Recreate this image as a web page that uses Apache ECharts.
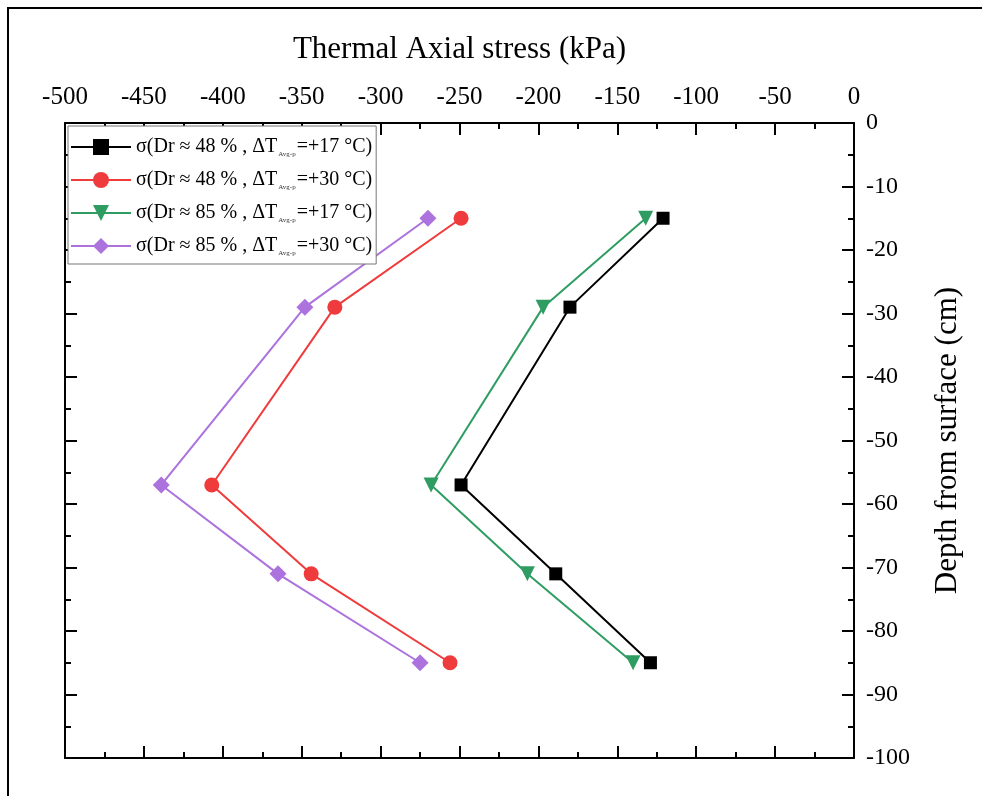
<!DOCTYPE html>
<html>
<head>
<meta charset="utf-8">
<script src="https://cdn.jsdelivr.net/npm/echarts@6/dist/echarts.min.js"></script>
<style>html,body{margin:0;padding:0;background:#fff}#c{width:982px;height:796px}</style>
</head>
<body>
<div id="c"></div>
<script>
const depths = [-15, -29, -57, -71, -85];
const dr48_t17 = [-121, -180, -249, -189, -129];
const dr48_t30 = [-249, -329, -407, -344, -256];
const dr85_t17 = [-132, -197, -268, -207, -140];
const dr85_t30 = [-270, -348, -439, -365, -275];
const seriesNames = ['Dr48_T17', 'Dr48_T30', 'Dr85_T17', 'Dr85_T30'];
const legendDr = ['48', '48', '85', '85'];
const legendT = ['+17', '+30', '+17', '+30'];
const xTitle = 'Thermal Axial stress (kPa)';
const yTitle = 'Depth from surface (cm)';

const FONT = '"Liberation Serif", "DejaVu Serif", serif';
const chart = echarts.init(document.getElementById('c'));

function pairs(xs) { return xs.map((x, i) => [x, depths[i]]); }

const tickCommon = {
  axisLine: { show: true, onZero: false, lineStyle: { color: '#000', width: 2 } },
  axisTick: { show: true, inside: true, length: 12, lineStyle: { color: '#000', width: 2 } },
  minorTick: { show: true, splitNumber: 2, length: 6, lineStyle: { color: '#000', width: 2 } },
  splitLine: { show: false },
  minorSplitLine: { show: false }
};

const colors = ['#000000', '#ef3b3b', '#2f9d62', '#ac72de'];
const symbols = ['rect', 'circle', 'triangle', 'diamond'];
const sizes = [13, 15, 15, 17];
const rotates = [0, 0, 180, 0];
const dataSets = [dr48_t17, dr48_t30, dr85_t17, dr85_t30];

const option = {
  backgroundColor: '#fff',
  animation: false,
  graphic: [{
    type: 'rect', shape: { x: 8, y: 8, width: 1200, height: 1000 },
    style: { fill: 'none', stroke: '#000', lineWidth: 2 }, z: 100
  }],
  grid: { left: 65, right: 128, top: 123, bottom: 38 },
  legend: {
    orient: 'vertical', left: 68, top: 126,
    backgroundColor: '#fff',
    borderColor: '#777', borderWidth: 1,
    padding: [11, 4, 7, 2],
    itemWidth: 60, itemHeight: 20, itemGap: 12,
    data: seriesNames,
    formatter: function (name) {
      const i = seriesNames.indexOf(name);
      return '{a|σ(Dr ≈ ' + legendDr[i] + ' % , ΔT}{s|Avg-p}{a|=' + legendT[i] + ' °C)}';
    },
    textStyle: {
      fontFamily: FONT, fontSize: 20, color: '#000',
      rich: {
        a: { fontFamily: FONT, fontSize: 20, color: '#000', lineHeight: 22 },
        s: { fontFamily: FONT, fontSize: 7, color: '#333', lineHeight: 8, verticalAlign: 'bottom', padding: [0, 1, 0, 1] }
      }
    }
  },
  xAxis: [
    Object.assign({
      type: 'value', position: 'top', min: -500, max: 0, interval: 50,
      name: xTitle, nameLocation: 'middle', nameGap: 58,
      nameTextStyle: { fontFamily: FONT, fontSize: 31, color: '#000' },
      axisLabel: { show: true, margin: 13, fontFamily: FONT, fontSize: 25, color: '#000' }
    }, tickCommon),
    Object.assign({
      type: 'value', position: 'bottom', min: -500, max: 0, interval: 50,
      axisLabel: { show: false }
    }, tickCommon)
  ],
  yAxis: [
    Object.assign({
      type: 'value', position: 'right', min: -100, max: 0, interval: 10,
      name: yTitle, nameLocation: 'middle', nameGap: 78, nameRotate: 90,
      nameTextStyle: { fontFamily: FONT, fontSize: 31, color: '#000' },
      axisLabel: { show: true, margin: 12, align: 'left', fontFamily: FONT, fontSize: 24, color: '#000' }
    }, tickCommon),
    Object.assign({
      type: 'value', position: 'left', min: -100, max: 0, interval: 10,
      axisLabel: { show: false }
    }, tickCommon)
  ],
  series: seriesNames.map((n, i) => ({
    name: n, type: 'line', xAxisIndex: 0, yAxisIndex: 0,
    data: pairs(dataSets[i]),
    symbol: symbols[i], symbolSize: sizes[i], symbolRotate: rotates[i],
    showAllSymbol: true,
    lineStyle: { color: colors[i], width: 2 },
    itemStyle: { color: colors[i] },
    z: 3
  }))
};
chart.setOption(option);
</script>
</body>
</html>
